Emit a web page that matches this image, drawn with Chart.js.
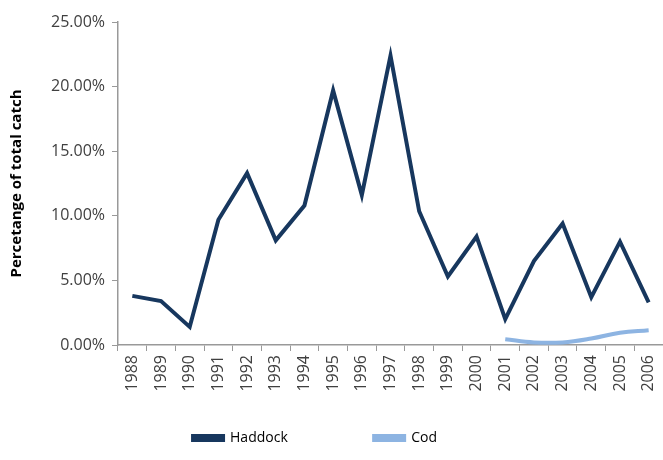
<!DOCTYPE html>
<html>
<head>
<meta charset="utf-8">
<script src="https://cdn.jsdelivr.net/npm/chart.js@4/dist/chart.umd.min.js"></script>
<style>
  html, body { margin: 0; padding: 0; background: #fff; overflow: hidden; }
  #wrap { width: 663px; height: 460px; }
</style>
</head>
<body>
<div id="wrap"><canvas id="grafik"></canvas></div>
<script>
const years = ["1988", "1989", "1990", "1991", "1992", "1993", "1994", "1995", "1996", "1997",
  "1998", "1999", "2000", "2001", "2002", "2003", "2004", "2005", "2006"];
const haddock = [3.8, 3.4, 1.4, 9.7, 13.3, 8.1, 10.8, 19.7, 11.6, 22.4,
  10.35, 5.3, 8.4, 2.0, 6.5, 9.4, 3.7, 8.0, 3.3];
const cod = [null, null, null, null, null, null, null, null, null, null,
  null, null, null, 0.45, 0.2, 0.2, 0.5, 0.95, 1.15];
const yTicks = [0, 5, 10, 15, 20, 25];

Chart.defaults.font.family = "'Open Sans', sans-serif";
Chart.defaults.color = "#404040";

const crt = new Chart(document.getElementById("grafik"), {
  type: "line",
  data: {
    labels: years,
    datasets: [
      {
        label: "Haddock",
        data: haddock,
        borderColor: "#17375e",
        backgroundColor: "#17375e",
        borderWidth: 4,
        tension: 0,
        pointRadius: 0,
        fill: false,
      },
      {
        label: "Cod",
        data: cod,
        borderColor: "#8db4e2",
        backgroundColor: "#8db4e2",
        borderWidth: 4,
        tension: 0.4,
        pointRadius: 0,
        fill: false,
      },
    ],
  },
  options: {
    responsive: true,
    maintainAspectRatio: false,
    animation: false,
    layout: { padding: { left: 4, right: -3, top: 22, bottom: 5 } },
    scales: {
      y: {
        min: yTicks[0],
        max: yTicks[yTicks.length - 1],
        afterFit: (s) => { s.width = 114; },
        ticks: {
          stepSize: 5,
          font: { size: 16 },
          padding: 7,
          callback: (v) => v.toFixed(2) + "%",
        },
        grid: { drawOnChartArea: false, color: "#999", tickLength: 6 },
        border: { color: "#999", width: 1.5 },
        title: {
          display: true,
          text: "Percetange of total catch",
          font: { size: 15, weight: "bold" },
          color: "#000",
          padding: { top: 4, bottom: 4 },
        },
      },
      x: {
        offset: true,
        afterFit: (s) => {
          s.height = 76;
          s.paddingLeft = 0;
          s.paddingRight = 0;
        },
        ticks: {
          font: { size: 16 },
          maxRotation: 90,
          minRotation: 90,
          padding: 4,
        },
        grid: { drawOnChartArea: false, offset: true, color: "#999", tickLength: 6 },
        border: { color: "#999", width: 1.5 },
      },
    },
    plugins: {
      legend: {
        position: "bottom",
        labels: {
          boxWidth: 30,
          boxHeight: 4,
          padding: 10,
          font: { size: 14 },
          color: "#000",
          generateLabels: (chart) => {
            const items = Chart.defaults.plugins.legend.labels.generateLabels(chart);
            // trailing spaces keep the entries spread out and left of centre like the original
            items[0].text = items[0].text + " ".repeat(21);
            items[1].text = items[1].text + " ".repeat(11);
            return items;
          },
        },
      },
      tooltip: { enabled: false },
    },
  },
});
</script>
</body>
</html>
